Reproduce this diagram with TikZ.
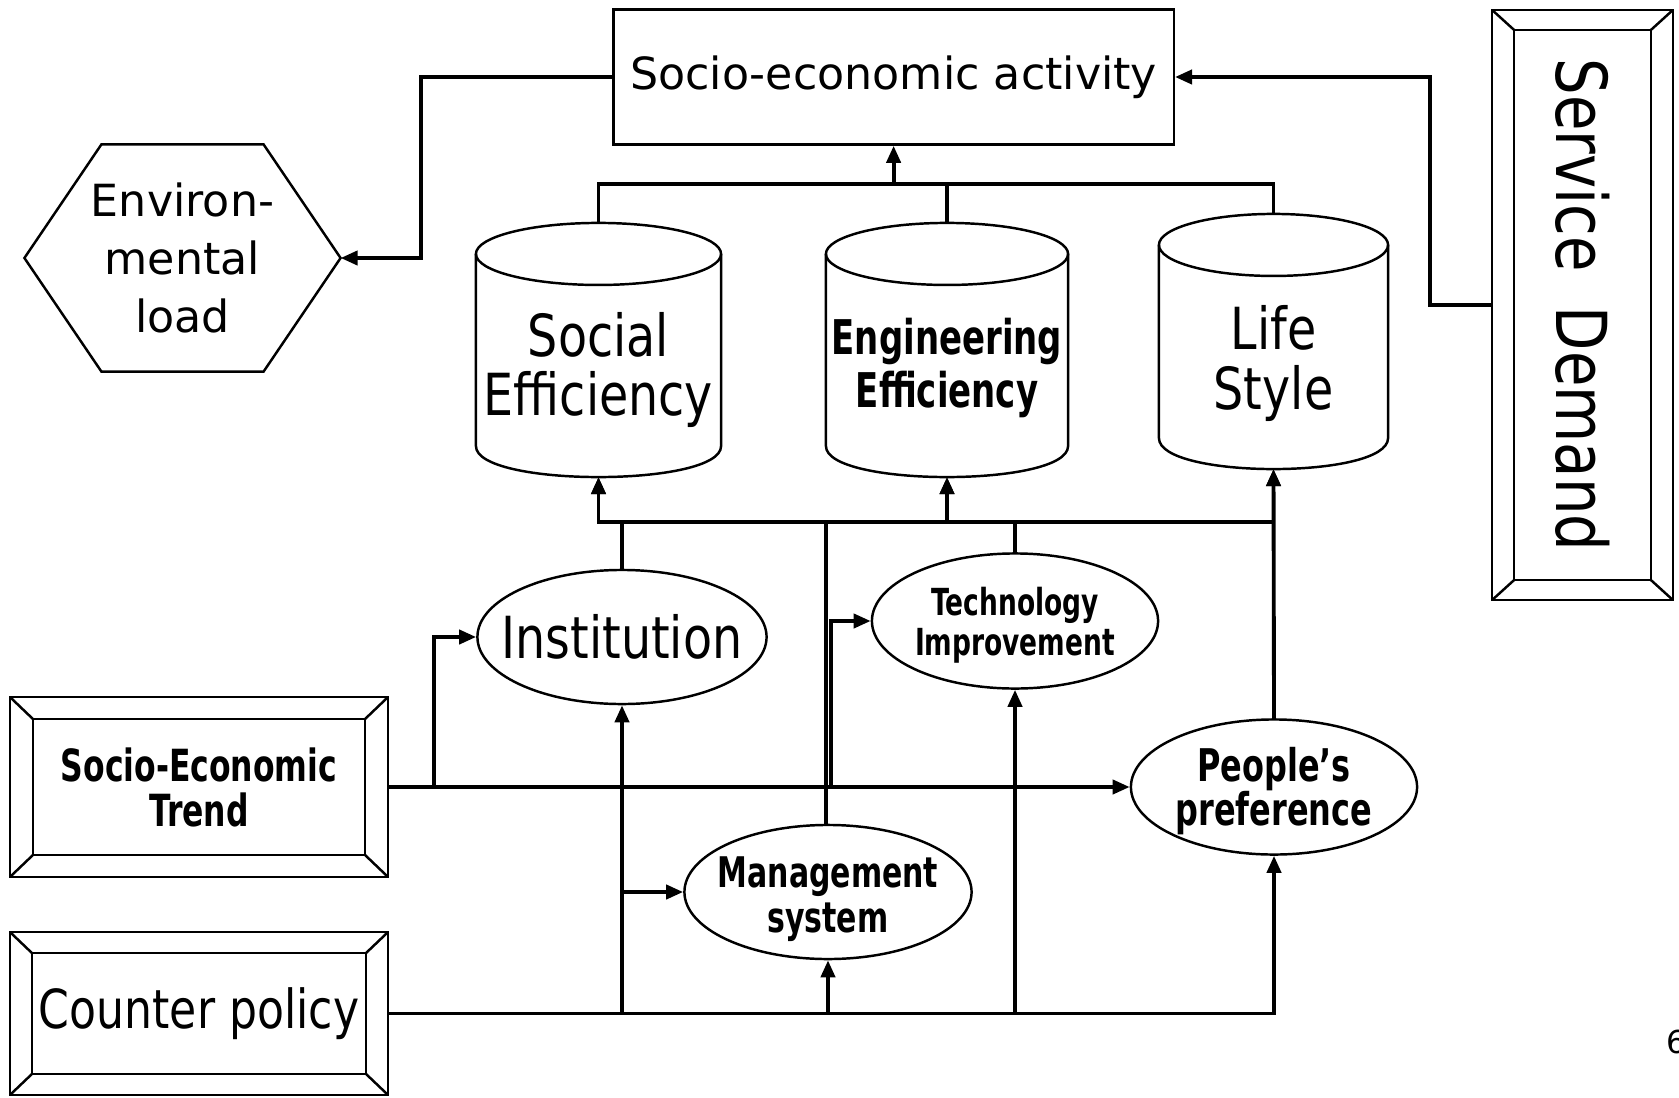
\documentclass[tikz,border=0pt]{standalone}
\usepackage{fontspec}
\setmainfont{DejaVu Sans}
\newfontfamily\rc{DejaVu Sans}[FakeStretch=0.82]
\newfontfamily\bc{DejaVu Sans}[FakeStretch=0.71]
\usetikzlibrary{arrows.meta,calc,shapes.geometric}
\tikzset{
  shp/.style={draw, line width=0.7pt, inner sep=0pt},
  ghost/.style={draw=none, inner sep=0pt, outer sep=0pt},
  conn/.style={line width=1.1pt},
  arr/.style={conn, -{Triangle[length=0.17cm,width=0.14cm]}},
  ell/.style={shp, ellipse, minimum width=2.87cm, minimum height=1.34cm},
  cyltxt/.style={align=center, font=\rc\fontsize{16.5}{16.8}\selectfont},
  bevel/.style 2 args={draw, line width=0.7pt, inner sep=0pt,
    path picture={
      \path (path picture bounding box.north west) coordinate (o1)
            (path picture bounding box.north east) coordinate (o2)
            (path picture bounding box.south east) coordinate (o3)
            (path picture bounding box.south west) coordinate (o4);
      \draw[line width=0.7pt] ([shift={(#1,-#2)}]o1) coordinate (i1)
         -- ([shift={(-#1,-#2)}]o2) coordinate (i2)
         -- ([shift={(-#1,#2)}]o3) coordinate (i3)
         -- ([shift={(#1,#2)}]o4) coordinate (i4) -- cycle;
      \draw[line width=0.7pt] (o1)--(i1) (o2)--(i2) (o3)--(i3) (o4)--(i4);
    }}
}
\newcommand\drawcyl[3]{%
  \draw[shp] ($(#1.north)+(0,-#3)$) ellipse [x radius=#2, y radius=#3];
  \draw[shp] ($(#1.north west)+(0,-#3)$) -- ($(#1.south west)+(0,#3)$)
     .. controls ($(#1.south west)+(0,{-#3/3})$) and ($(#1.south east)+(0,{-#3/3})$) ..
     ($(#1.south east)+(0,#3)$) -- ($(#1.north east)+(0,-#3)$);}
\begin{document}
\begin{tikzpicture}[x=0.01cm,y=-0.01cm]
\useasboundingbox (0,0) rectangle (1679,1097);

% top box
\node[shp, minimum width=5.6cm, minimum height=1.35cm, font=\fontsize{12.6}{15}\selectfont] (act) at (893.6,77) {Socio-economic activity};

% environmental load hexagon
\node[ghost, minimum width=3.16cm, minimum height=2.27cm, align=center, font=\fontsize{12.6}{16.5}\selectfont] (env) at (182.5,258) {Environ-\\mental\\load};
\draw[shp] (env.west) -- ($(env.north west)+(77,0)$) -- ($(env.north east)+(-77,0)$) -- (env.east)
  -- ($(env.south east)+(-77,0)$) -- ($(env.south west)+(77,0)$) -- cycle;

% service demand
\node[bevel={0.22cm}{0.20cm}, minimum width=1.81cm, minimum height=5.9cm, font=\rc\fontsize{20}{22}\selectfont] (sd) at (1582.5,305) {\rotatebox{-90}{Service\hspace{0.5em}Demand}};

% cylinders
\node[ghost, minimum width=2.45cm, minimum height=2.54cm, label={[cyltxt, yshift=-0.2cm]center:Social\\Efficiency}] (soc) at (598.5,350) {};
\node[ghost, minimum width=2.42cm, minimum height=2.54cm, label={[align=center, font=\bc\bfseries\fontsize{13.6}{14.8}\selectfont, yshift=-0.18cm]center:Engineering\\Efficiency}] (eng) at (947,350) {};
\node[ghost, minimum width=2.29cm, minimum height=2.55cm, label={[cyltxt, yshift=-0.22cm]center:Life\\Style}] (life) at (1273.5,341.5) {};
\drawcyl{soc}{1.225cm}{0.31cm}
\drawcyl{eng}{1.21cm}{0.31cm}
\drawcyl{life}{1.145cm}{0.31cm}

% ellipses
\node[ell, minimum width=2.89cm, label={[font=\rc\fontsize{16.5}{16.5}\selectfont]center:Institution}] (inst) at (622,637) {};
\node[ell, minimum width=2.86cm, minimum height=1.35cm, label={[align=center, font=\bc\bfseries\fontsize{10.6}{11.4}\selectfont, yshift=-0.04cm]center:Technology\\Improvement}] (tech) at (1015,621) {};
\node[ell, minimum width=2.86cm, minimum height=1.35cm, label={[align=center, font=\bc\bfseries\fontsize{12.8}{12.5}\selectfont, yshift=-0.04cm]center:People’s\\preference}] (people) at (1274,787) {};
\node[ell, label={[align=center, font=\bc\bfseries\fontsize{12}{12.8}\selectfont, yshift=-0.07cm]center:Management\\system}] (mgmt) at (828,892) {};

% left boxes
\node[bevel={0.23cm}{0.22cm}, minimum width=3.78cm, minimum height=1.8cm, align=center, font=\bc\bfseries\fontsize{12.6}{12.8}\selectfont] (trend) at (199,787) {Socio-Economic\\Trend};
\node[bevel={0.22cm}{0.21cm}, minimum width=3.78cm, minimum height=1.63cm, font=\rc\fontsize{15.3}{17}\selectfont] (counter) at (199,1013.5) {Counter policy};

% page number
\node[font=\fontsize{9}{10}\selectfont] (pg) at (1677,1042) {6};

% connectors: top
\coordinate (ytop) at (0,184);
\coordinate (ymid) at (0,522);
\coordinate (jtop) at (act.south |- ytop);
\draw[conn] (soc.north) |- (jtop);
\draw[conn] (eng.north) |- (jtop);
\draw[conn] (life.north) |- (jtop);
\draw[arr] (jtop) -- (act.south);
\draw[arr] (act.west) -- ++(-191,0) |- (env.east);
\draw[arr] (sd.west) -- ++(-61,0) |- (act.east);

% connectors: middle
\coordinate (mtop) at ($(mgmt.north)+(-2,0)$);
\draw[arr] (inst.north) |- (soc.south |- ymid) -- (soc.south);
\draw[arr] (mtop) |- (soc.south |- ymid) -- (soc.south);
\draw[arr] (mtop) |- (eng.south |- ymid) -- (eng.south);
\draw[arr] (tech.north) |- (eng.south |- ymid) -- (eng.south);
\draw[arr] (tech.north) |- (life.south |- ymid) -- (life.south);
\draw[arr] (people.north) -- (life.south);

% connectors: socio-economic trend
\coordinate (t1) at ($(trend.east)+(45,0)$);
\coordinate (t2) at (trend.east -| inst.south);
\coordinate (t3) at ($(trend.east -| mgmt.north)+(3,0)$);
\draw[arr] (trend.east) -- (people.west);
\draw[arr] (t1) |- (inst.west);
\draw[arr] (t2) |- (mgmt.west);
\draw[arr] (t3) |- (tech.west);

% connectors: counter policy
\draw[arr] (counter.east) -| (people.south);
\draw[arr] (counter.east -| inst.south) -- (inst.south);
\draw[arr] (counter.east -| mgmt.south) -- (mgmt.south);
\draw[arr] (counter.east -| tech.south) -- (tech.south);
\end{tikzpicture}
\end{document}
